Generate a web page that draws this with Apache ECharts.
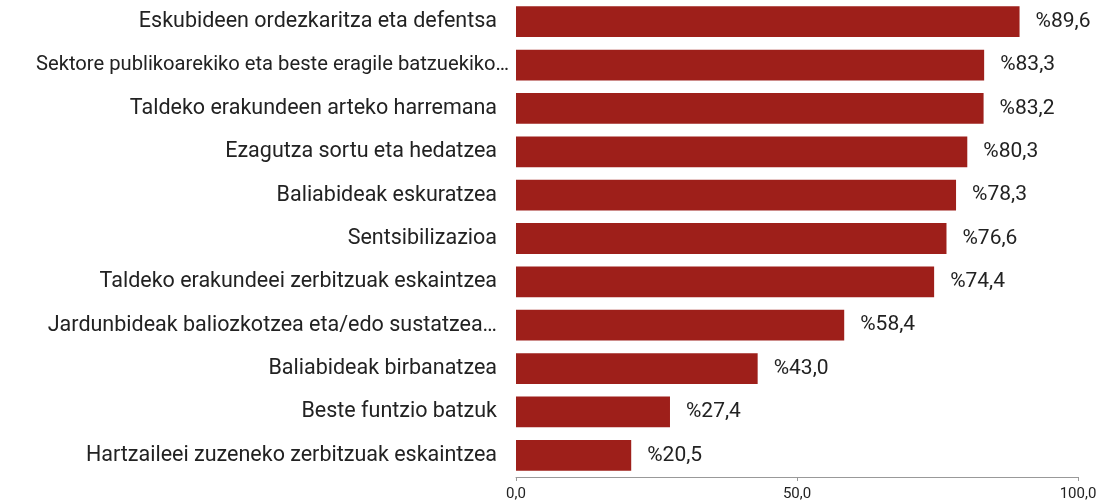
<!DOCTYPE html>
<html>
<head>
<meta charset="utf-8">
<script src="https://cdn.jsdelivr.net/npm/echarts@6/dist/echarts.min.js"></script>
<style>
  html, body { margin: 0; padding: 0; background: #fff; }
  #main { width: 1100px; height: 504px; }
</style>
</head>
<body>
<div id="main"></div>
<script>
// categories from top to bottom
var categories = [
  'Eskubideen ordezkaritza eta defentsa',
  'Sektore publikoarekiko eta beste eragile batzuekiko…',
  'Taldeko erakundeen arteko harremana',
  'Ezagutza sortu eta hedatzea',
  'Baliabideak eskuratzea',
  'Sentsibilizazioa',
  'Taldeko erakundeei zerbitzuak eskaintzea',
  'Jardunbideak baliozkotzea eta/edo sustatzea…',
  'Baliabideak birbanatzea',
  'Beste funtzio batzuk',
  'Hartzaileei zuzeneko zerbitzuak eskaintzea'
];
var values = [89.6, 83.3, 83.2, 80.3, 78.3, 76.6, 74.4, 58.4, 43.0, 27.4, 20.5];

function fmt(v) { return v.toFixed(1).replace('.', ','); }

var myChart = echarts.init(document.getElementById('main'));
var option = {
  animation: false,
  textStyle: { fontFamily: 'Roboto' },
  grid: { left: 516, right: 22, top: 0, bottom: 27, containLabel: false, outerBoundsMode: 'none' },
  xAxis: {
    type: 'value',
    min: 0,
    max: 100,
    interval: 50,
    axisLine: { show: true, lineStyle: { color: '#999', width: 1 } },
    axisTick: { show: true, length: 4, lineStyle: { color: '#999' } },
    splitLine: { show: false },
    axisLabel: { color: '#222', fontSize: 15, margin: 10, formatter: function (v) { return fmt(v); } }
  },
  yAxis: {
    type: 'category',
    inverse: true,
    data: categories,
    axisLine: { show: false },
    axisTick: { show: false },
    axisLabel: {
      color: '#222', fontSize: 21.5, margin: 19,
      formatter: function (v) {
        // the long truncated label sits a bit smaller and runs past the others
        return v.indexOf('Sektore') === 0 ? '{s|' + v + '}' : v;
      },
      rich: { s: { fontSize: 20.2, width: 461, align: 'left', color: '#222' } }
    }
  },
  series: [{
    type: 'bar',
    data: values,
    barCategoryGap: '29%',
    itemStyle: { color: '#9e1f1a' },
    label: {
      show: true,
      position: 'right',
      distance: 16,
      color: '#222',
      fontSize: 21,
      formatter: function (p) { return '%' + fmt(p.value); }
    }
  }]
};
myChart.setOption(option);
</script>
</body>
</html>
